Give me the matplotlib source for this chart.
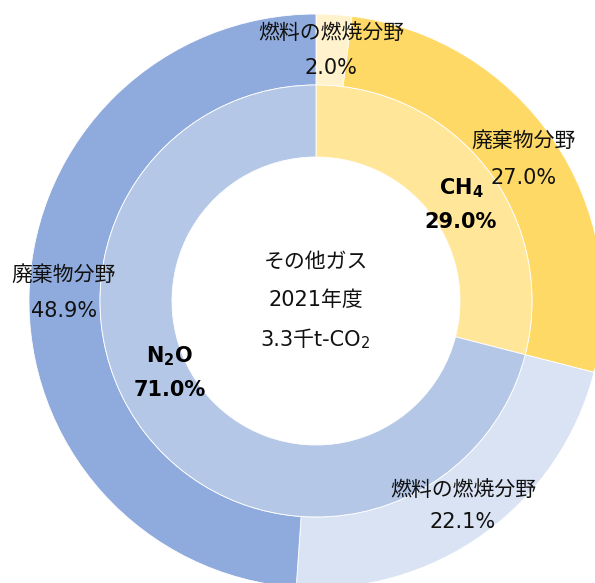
import matplotlib
matplotlib.use("Agg")
import matplotlib.pyplot as plt

plt.rcParams['font.family'] = ['DejaVu Sans', 'Noto Sans CJK JP']

# ---- data ----
inner_labels = [r"$\mathbf{CH_4}$", r"$\mathbf{N_2O}$"]
inner_values = [29.0, 71.0]
outer_labels = ["燃料の燃焼分野", "廃棄物分野", "燃料の燃焼分野", "廃棄物分野"]
outer_values = [2.0, 27.0, 22.1, 48.9]
center_lines = ["その他ガス", "2021年度", "3.3千t-CO"]
center_sub = "2"

inner_colors = ["#FFE699", "#B4C7E7"]
outer_colors = ["#FFF2CC", "#FFD966", "#DAE3F3", "#8FAADC"]

W, H = 595, 583
CX, CY, R = 316, 301, 287  # pixel centre and outer radius

fig = plt.figure(figsize=(W / 100, H / 100), dpi=100)
ax = fig.add_axes([0, 0, 1, 1])
ax.axis('off')

ax.pie(outer_values, radius=1.0, colors=outer_colors, startangle=90,
       counterclock=False,
       wedgeprops=dict(width=71 / 287, edgecolor='white', linewidth=0.6))
ax.pie(inner_values, radius=216 / 287, colors=inner_colors, startangle=90,
       counterclock=False,
       wedgeprops=dict(width=72 / 287, edgecolor='white', linewidth=0.6))
ax.set_xlim((0 - CX) / R, (W - CX) / R)
ax.set_ylim((CY - H) / R, (CY - 0) / R)
ax.set_aspect('auto')


def px(x, y):
    return (x - CX) / R, (CY - y) / R


fs = 15
tc = '#111111'
outer_pos = [(331, 33, 68), (524, 141, 178), (463, 490, 522), (64, 275, 311)]
for lab, val, (x, y1, y2) in zip(outer_labels, outer_values, outer_pos):
    ax.text(*px(x, y1), lab, ha='center', va='center', fontsize=fs, color=tc)
    ax.text(*px(x, y2), f"{val:.1f}%", ha='center', va='center', fontsize=fs, color=tc)

inner_pos = [(461, 188, 222), (170, 356, 390)]
for lab, val, (x, y1, y2) in zip(inner_labels, inner_values, inner_pos):
    ax.text(*px(x, y1), lab, ha='center', va='center', fontsize=fs, color='black')
    ax.text(*px(x, y2), f"{val:.1f}%", ha='center', va='center', fontsize=fs,
            fontweight='bold', color='black')

ax.text(*px(316, 262), center_lines[0], ha='center', va='center', fontsize=fs, color=tc)
ax.text(*px(316, 300), center_lines[1], ha='center', va='center', fontsize=fs, color=tc)
t = ax.text(*px(311, 340), center_lines[2], ha='center', va='center', fontsize=fs, color=tc)
ax.annotate(center_sub, xy=(1, 0.0), xycoords=t, xytext=(-0.5, -1),
            textcoords='offset points', ha='left', va='bottom',
            fontsize=fs * 0.7, color=tc)

fig.savefig("out.png", dpi=100)
